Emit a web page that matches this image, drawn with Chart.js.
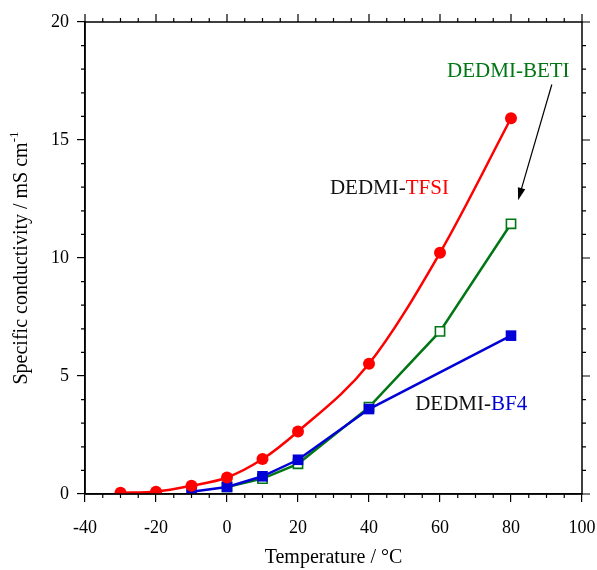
<!DOCTYPE html>
<html>
<head>
<meta charset="utf-8">
<script src="https://cdn.jsdelivr.net/npm/chart.js@4"></script>
<style>
  html, body { margin: 0; padding: 0; background: #fff; }
  #wrap { width: 597px; height: 570px; }
</style>
</head>
<body>
<div id="wrap"><canvas id="chart" width="597" height="570"></canvas></div>
<script>
// data
const tfsiTemp = [-30, -20, -10, 0, 10, 20, 40, 60, 80];
const tfsiCond = [0.05, 0.1, 0.35, 0.7, 1.48, 2.65, 5.52, 10.22, 15.92];
const betiTemp = [0, 10, 20, 40, 60, 80];
const betiCond = [0.3, 0.65, 1.28, 3.68, 6.89, 11.45];
const bf4Temp = [-10, 0, 10, 20, 40, 80];
const bf4Cond = [0.1, 0.3, 0.75, 1.45, 3.6, 6.71];
const xTicks = [-40, -20, 0, 20, 40, 60, 80, 100];
const yTicks = [0, 5, 10, 15, 20];

const RED = "rgb(255,0,0)";
const GREEN = "rgb(0,118,20)";
const BLUE = "rgb(0,0,215)";
const SERIF = "'Liberation Serif', 'Times New Roman', serif";

function pts(xs, ys) {
  return xs.map((x, i) => ({ x: x, y: ys[i] }));
}

// frame, top/right ticks, minor ticks, labels and arrow
const extras = {
  id: "extras",
  afterDraw(chart) {
    const ctx = chart.ctx;
    const a = chart.chartArea;
    const xs = chart.scales.x;
    const ys = chart.scales.y;
    ctx.save();
    ctx.strokeStyle = "#000";
    ctx.lineWidth = 1.5;
    ctx.strokeRect(a.left, a.top, a.right - a.left, a.bottom - a.top);

    ctx.lineWidth = 1.2;
    ctx.beginPath();
    for (let v = -40; v <= 100; v += 5) {
      const px = xs.getPixelForValue(v);
      const len = v % 20 === 0 ? 8 : 4;
      ctx.moveTo(px, a.top); ctx.lineTo(px, a.top - len);
      if (v % 20 !== 0) { ctx.moveTo(px, a.bottom); ctx.lineTo(px, a.bottom + len); }
    }
    for (let v = 0; v <= 20; v += 1) {
      const py = ys.getPixelForValue(v);
      const len = v % 5 === 0 ? 8 : 4;
      ctx.moveTo(a.right, py); ctx.lineTo(a.right + len, py);
      if (v % 5 !== 0) { ctx.moveTo(a.left, py); ctx.lineTo(a.left - len, py); }
    }
    ctx.stroke();

    // y axis title with superscript
    ctx.fillStyle = "#000";
    ctx.translate(22, (a.top + a.bottom) / 2);
    ctx.rotate(-Math.PI / 2);
    ctx.textBaseline = "middle";
    const main = "Specific conductivity / mS cm";
    ctx.font = "13px " + SERIF;
    const supW = ctx.measureText("-1").width;
    ctx.font = "20px " + SERIF;
    const mainW = ctx.measureText(main).width;
    const x0 = -(mainW + supW) / 2;
    ctx.textAlign = "left";
    ctx.fillText(main, x0, 0);
    ctx.font = "13px " + SERIF;
    ctx.fillText("-1", x0 + mainW, -7);
    ctx.setTransform(1, 0, 0, 1, 0, 0);

    // series labels
    ctx.font = "21px " + SERIF;
    ctx.textBaseline = "middle";
    ctx.textAlign = "left";
    function label(parts, xv, yv) {
      let px = xs.getPixelForValue(xv);
      const py = ys.getPixelForValue(yv);
      parts.forEach(p => {
        ctx.fillStyle = p[1];
        ctx.fillText(p[0], px, py);
        px += ctx.measureText(p[0]).width;
      });
    }
    label([["DEDMI-", "#111"], ["TFSI", RED]], 29, 12.95);
    label([["DEDMI-", GREEN], ["BETI", GREEN]], 62, 17.9);
    label([["DEDMI-", "#111"], ["BF4", BLUE]], 53, 3.78);

    // arrow toward BETI curve
    const ax1 = xs.getPixelForValue(91.5), ay1 = ys.getPixelForValue(17.35);
    const ax2 = xs.getPixelForValue(82), ay2 = ys.getPixelForValue(12.45);
    const ang = Math.atan2(ay2 - ay1, ax2 - ax1);
    ctx.strokeStyle = "#000";
    ctx.fillStyle = "#000";
    ctx.lineWidth = 1.2;
    ctx.beginPath();
    ctx.moveTo(ax1, ay1);
    ctx.lineTo(ax2 - 10 * Math.cos(ang), ay2 - 10 * Math.sin(ang));
    ctx.stroke();
    ctx.beginPath();
    ctx.moveTo(ax2, ay2);
    ctx.lineTo(ax2 - 13 * Math.cos(ang - 0.3), ay2 - 13 * Math.sin(ang - 0.3));
    ctx.lineTo(ax2 - 13 * Math.cos(ang + 0.3), ay2 - 13 * Math.sin(ang + 0.3));
    ctx.closePath();
    ctx.fill();
    ctx.restore();
  }
};

const ctx = document.getElementById("chart").getContext("2d");

new Chart(ctx, {
  type: "scatter",
  data: {
    datasets: [
      {
        label: "DEDMI-TFSI",
        data: pts(tfsiTemp, tfsiCond),
        showLine: true,
        borderColor: RED,
        backgroundColor: RED,
        borderWidth: 2.5,
        pointStyle: "circle",
        pointRadius: 6,
        pointBorderWidth: 0,
        cubicInterpolationMode: "monotone",
      },
      {
        label: "DEDMI-BF4",
        data: pts(bf4Temp, bf4Cond),
        showLine: true,
        borderColor: BLUE,
        backgroundColor: BLUE,
        borderWidth: 2.5,
        pointStyle: "rect",
        pointRadius: 7.5,
        pointBorderWidth: 0,
      },
      {
        label: "DEDMI-BETI",
        data: pts(betiTemp, betiCond),
        showLine: true,
        borderColor: GREEN,
        backgroundColor: GREEN,
        borderWidth: 2.5,
        pointStyle: "rect",
        pointRadius: 6.5,
        pointBackgroundColor: "#fff",
        pointBorderColor: GREEN,
        pointBorderWidth: 1.6,
      },
    ],
  },
  options: {
    responsive: false,
    animation: false,
    layout: { padding: { top: 22, right: 15, left: 0, bottom: 0 } },
    plugins: {
      legend: { display: false },
      tooltip: { enabled: false },
    },
    scales: {
      x: {
        type: "linear",
        min: -40,
        max: 100,
        afterBuildTicks: (s) => { s.ticks = xTicks.map(v => ({ value: v })); },
        afterFit: (s) => { s.height = 570 - 494; s.paddingLeft = 0; s.paddingRight = 0; },
        grid: { drawOnChartArea: false, tickLength: 8, color: "#000", lineWidth: 1.2 },
        border: { color: "#000", width: 1.5 },
        ticks: { color: "#000", padding: 15, font: { family: SERIF, size: 18 } },
        title: {
          display: true,
          text: "Temperature / \u00B0C",
          color: "#000",
          padding: { top: 0, bottom: 0 },
          font: { family: SERIF, size: 20 },
        },
      },
      y: {
        type: "linear",
        min: 0,
        max: 20,
        afterBuildTicks: (s) => { s.ticks = yTicks.map(v => ({ value: v })); },
        afterFit: (s) => { s.width = 85; },
        grid: { drawOnChartArea: false, tickLength: 8, color: "#000", lineWidth: 1.2 },
        border: { color: "#000", width: 1.5 },
        ticks: { color: "#000", padding: 8, font: { family: SERIF, size: 18 } },
      },
    },
  },
  plugins: [extras],
});
</script>
</body>
</html>
